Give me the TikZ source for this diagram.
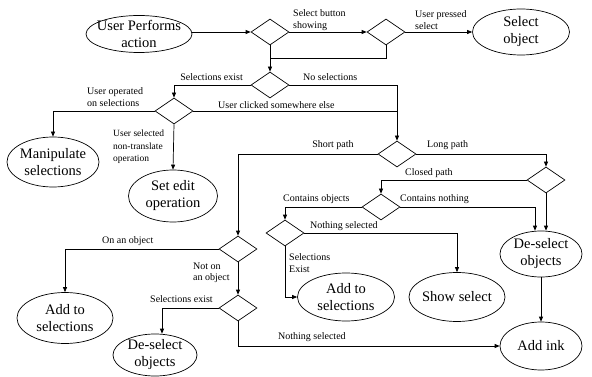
\documentclass[tikz,border=0pt]{standalone}
\usepackage{fontspec}
\setmainfont{Liberation Serif}
\usetikzlibrary{shapes.geometric,arrows.meta,calc}
\begin{document}
\begin{tikzpicture}[x=1pt,y=-1pt,
  term/.style={ellipse, draw, line width=0.7pt, inner sep=0pt},
  etext/.style={font=\fontsize{14.5}{17}\selectfont, align=center, inner sep=0pt},
  dec/.style={diamond, draw, line width=0.7pt, minimum width=38pt, minimum height=26pt, inner sep=0pt},
  lbl/.style={font=\fontsize{10}{11.5}\selectfont, inner sep=0pt, align=left},
  conn/.style={line width=0.7pt, -{Triangle[length=5pt,width=4pt]}},
  plain/.style={line width=0.7pt}]
\useasboundingbox[fill=white] (0,0) rectangle (592,377);

% terminal ellipses
\node[term, minimum width=106pt, minimum height=37pt] (up) at (139,34) {};
\node[etext] (upt) at (up) {User Performs\\action};
\node[term, minimum width=97pt, minimum height=46pt] (so) at (521,32) {};
\node[etext] (sot) at (so) {Select\\object};
\node[term, minimum width=92pt, minimum height=50pt] (man) at (53,162) {};
\node[etext] (mant) at (man) {Manipulate\\selections};
\node[term, minimum width=89pt, minimum height=52pt] (set) at (173,196) {};
\node[etext] (sett) at (set) {Set edit\\operation};
\node[term, minimum width=82pt, minimum height=46pt] (ds2) at (541,254) {};
\node[etext] (ds2t) at (ds2) {De-select\\objects};
\node[term, minimum width=96pt, minimum height=49pt] (sh) at (457,297) {};
\node[etext] (sht) at (sh) {Show select};
\node[term, minimum width=97pt, minimum height=48pt] (as2) at (346,297) {};
\node[etext] (as2t) at (as2) {Add to\\selections};
\node[term, minimum width=96pt, minimum height=51pt] (as1) at (65,318) {};
\node[etext] (as1t) at (as1) {Add to\\selections};
\node[term, minimum width=84pt, minimum height=42pt] (ds1) at (155,355) {};
\node[etext] (ds1t) at (ds1) {De-select\\objects};
\node[term, minimum width=82pt, minimum height=48pt] (ai) at (541,346) {};
\node[etext] (ait) at (ai) {Add ink};

% decisions
\node[dec] (d1) at (270,32) {};
\node[dec] (d2) at (386,32) {};
\node[dec] (d3) at (270,85) {};
\node[dec] (d4) at (174,111) {};
\node[dec] (d5) at (397,154) {};
\node[dec] (d7) at (546,180) {};
\node[dec] (d8) at (381,207) {};
\node[dec] (d9) at (285,233) {};
\node[dec] (d6) at (238,249) {};
\node[dec] (d10) at (238,308) {};

\coordinate (j1) at (270,58);

% connectors
\draw[conn] (up.east |- d1.west) -- (d1.west);
\draw[conn] (d1.east) -- (d2.west);
\draw[conn] (d2.east) -- (so.west);
\draw[plain] (d2.south) |- (j1);
\draw[conn] (d1.south) -- (d3.north);
\draw[conn] (d3.west) -| (d4.north);
\draw[conn] (d3.east) -| (d5.north);
\draw[conn] (d4.west) -| (man.north);
\draw[conn] (d4.south) -- (set.north);
\draw[plain] (d4.east) -- (d4.east -| d5.north);
\draw[conn] (d5.west) -| (d6.north);
\draw[conn] (d5.east) -| (d7.north);
\draw[conn] (d7.west) -| (d8.north);
\draw[conn] (d8.east) -| ($(ds2.north)+(-6,0)$);
\draw[conn] (d7.south) -- (d7.south |- ds2.north);
\draw[conn] (d8.west) -| (d9.north);
\draw[conn] (d9.east) -| (sh.north);
\draw[conn] (d9.south) |- (as2.west);
\draw[conn] (d6.west) -| (as1.north);
\draw[conn] (d6.south) -- (d10.north);
\draw[conn] (d10.west) -| ($(ds1.north)+(7,0)$);
\draw[conn] (d10.south) |- (ai.west);
\draw[conn] (ds2.south) -- (ai.north);

% labels
\node[lbl, anchor=west] (l1) at (293,20) {Select button\\showing};
\node[lbl, anchor=west] (l2) at (415,20) {User pressed\\select};
\node[lbl, anchor=east] (l3) at (243,77) {Selections exist};
\node[lbl, anchor=west] (l4) at (303,77) {No selections};
\node[lbl, anchor=west] (l5) at (87,97) {User operated\\on selections};
\node[lbl, anchor=west] (l6) at (218,105) {User clicked somewhere else};
\node[lbl, anchor=west, font=\fontsize{9.5}{12.5}\selectfont] (l7) at (113,147) {User selected\\non-translate\\operation};
\node[lbl] (l8) at (333,145) {Short path};
\node[lbl, anchor=west] (l9) at (427,145) {Long path};
\node[lbl, anchor=west] (l10) at (405,173) {Closed path};
\node[lbl, anchor=west] (l11) at (283,199) {Contains objects};
\node[lbl, anchor=west] (l12) at (400,199) {Contains nothing};
\node[lbl, anchor=west] (l13) at (310,226) {Nothing selected};
\node[lbl, anchor=west] (l14) at (289,263) {Selections\\Exist};
\node[lbl, anchor=west] (l15) at (102,241) {On an object};
\node[lbl, anchor=west] (l16) at (193,273) {Not on\\an object};
\node[lbl, anchor=west] (l17) at (150,299) {Selections exist};
\node[lbl, anchor=west] (l18) at (278,337) {Nothing selected};
\end{tikzpicture}
\end{document}
